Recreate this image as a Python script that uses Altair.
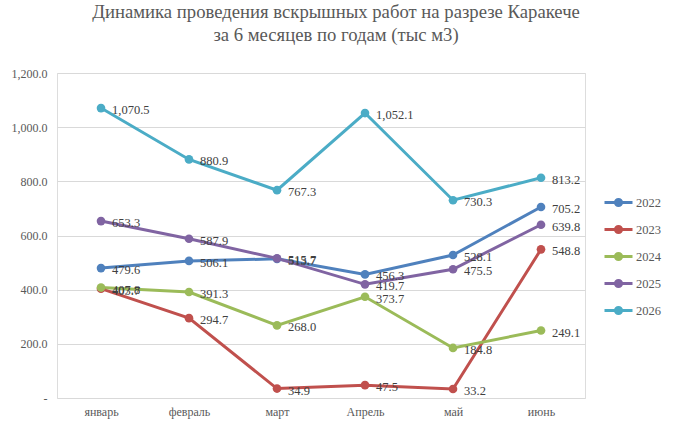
import altair as alt
import pandas as pd

months = ["январь", "февраль", "март", "Апрель", "май", "июнь"]
years = ["2022", "2023", "2024", "2025", "2026"]
v2022 = [479.6, 506.1, 513.7, 456.3, 528.1, 705.2]
v2023 = [403.7, 294.7, 34.9, 47.5, 33.2, 548.8]
v2024 = [407.8, 391.3, 268.0, 373.7, 184.8, 249.1]
v2025 = [653.3, 587.9, 515.7, 419.7, 475.5, 639.8]
v2026 = [1070.5, 880.9, 767.3, 1052.1, 730.3, 813.2]
colors = ["#4F81BD", "#C0504D", "#9BBB59", "#8064A2", "#4BACC6"]

series = [v2022, v2023, v2024, v2025, v2026]
rows = []
for yr, vals in zip(years, series):
    for m, v in zip(months, vals):
        rows.append({"month": m, "year": yr, "value": v})
df = pd.DataFrame(rows)

FONT = "Liberation Serif"

x = alt.X("month:N", sort=months, title=None,
          scale=alt.Scale(paddingInner=0, paddingOuter=0.5),
          axis=alt.Axis(labelAngle=0, ticks=False, domain=False, labelPadding=8,
                        labelFont=FONT, labelFontSize=12, labelColor="#595959"))
y = alt.Y("value:Q", title=None,
          scale=alt.Scale(domain=[0, 1200]),
          axis=alt.Axis(values=[0, 200, 400, 600, 800, 1000, 1200],
                        labelExpr="datum.value == 0 ? '-' : format(datum.value, ',.1f')",
                        ticks=False, domain=False, labelPadding=10,
                        labelFont=FONT, labelFontSize=12, labelColor="#595959",
                        gridColor="#d9d9d9", gridWidth=1))
color = alt.Color("year:N", title=None,
                  scale=alt.Scale(domain=years, range=colors),
                  legend=alt.Legend(orient="none", legendX=546, legendY=114,
                                    symbolType="M-1,0H1M0.22,0A0.22,0.22,0,1,1,-0.22,0A0.22,0.22,0,1,1,0.22,0",
                                    symbolSize=784, symbolStrokeWidth=3,
                                    labelFont=FONT, labelFontSize=12.5, labelColor="#595959",
                                    rowPadding=2, labelOffset=2))

base = alt.Chart(df)
lines = base.mark_line(strokeWidth=3,
                       point=alt.OverlayMarkDef(filled=True, size=75)).encode(
    x=x, y=y, color=color)
labels = base.mark_text(align="left", baseline="middle", dx=11, dy=2,
                        font=FONT, fontSize=12.5, color="#404040").encode(
    x=x, y=y, text=alt.Text("value:Q", format=",.1f"))

chart = (lines + labels).properties(
    width=528, height=325,
    autosize=alt.AutoSizeParams(type="none"),
    padding={"left": 57, "top": 73, "right": 88, "bottom": 32},
    title=alt.Title(["Динамика проведения вскрышных работ на разрезе Каракече",
                     "за 6 месяцев по годам (тыс м3)"],
                    font=FONT, fontSize=18.7, fontWeight="normal", color="#595959",
                    anchor="middle", dx=15, offset=22, lineHeight=23),
).configure_view(stroke=None).configure(background="white")

chart.save("out.html", embed_options={"renderer": "svg", "actions": False})
